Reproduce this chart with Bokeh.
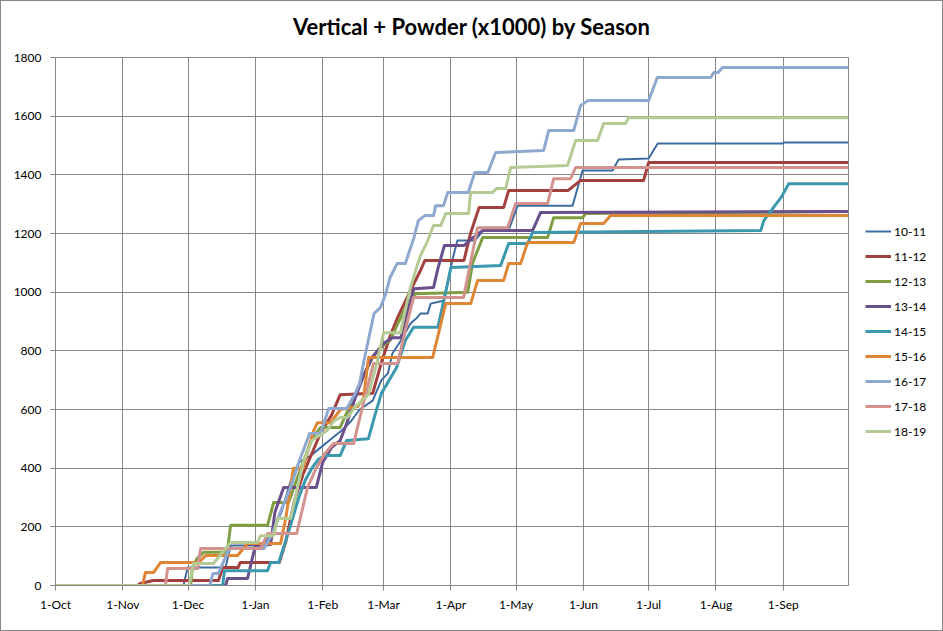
from bokeh.plotting import figure
from bokeh.models import FixedTicker, Legend, LegendItem, ColumnDataSource, Range1d, Div
from bokeh.layouts import row, column
from bokeh.embed import file_html
from bokeh.resources import INLINE

# x = days since 1-Oct, y = cumulative vertical + powder (x1000)
month_days = [0, 31, 61, 92, 123, 151, 182, 212, 243, 273, 304, 335]
month_labels = ["1-Oct", "1-Nov", "1-Dec", "1-Jan", "1-Feb", "1-Mar",
                "1-Apr", "1-May", "1-Jun", "1-Jul", "1-Aug", "1-Sep"]
y_ticks = [0, 200, 400, 600, 800, 1000, 1200, 1400, 1600, 1800]

seasons = ["10-11", "11-12", "12-13", "13-14", "14-15", "15-16", "16-17", "17-18", "18-19"]

s_10_11 = [(0, 0), (58.9, 0), (60.8, 61), (78.3, 61), (80.6, 136), (95, 136), (100, 180), (104, 250),
           (108, 350), (112, 420), (117, 440), (122, 470), (127, 500), (132, 530), (136, 560), (140, 600),
           (146, 630), (150, 700), (153, 723), (155, 790), (159, 835), (163.4, 893), (166, 910), (168, 927),
           (171.3, 927), (172.7, 961), (178.6, 971), (181, 1050), (183, 1120), (185, 1176), (193, 1176),
           (198, 1220), (209, 1220), (212.7, 1295), (238, 1295), (242.6, 1415), (256.4, 1415), (259.2, 1452),
           (273, 1456), (277.2, 1507), (334.7, 1507), (335.5, 1510), (365, 1510)]
s_11_12 = [(0, 0), (37.8, 0), (39, 7), (45, 17), (75, 17), (77, 61), (84, 61), (85, 78), (103, 78),
           (106, 150), (110, 290), (114, 380), (118, 450), (122, 520), (127, 580), (131, 650), (146, 655),
           (150, 760), (154, 850), (157.5, 914), (163.4, 1006), (168, 1074), (170, 1108), (188, 1108),
           (191, 1200), (195, 1289), (206.3, 1289), (208.6, 1347), (236, 1347), (241.7, 1381), (270.7, 1381),
           (273, 1442), (365, 1442)]
s_12_13 = [(0, 0), (62.2, 0), (63, 60), (65, 90), (68.1, 113), (79, 113), (80.6, 205), (97.6, 205),
           (100.4, 283), (107.3, 283), (110, 340), (114, 420), (118, 500), (122, 539), (131, 539), (136, 620),
           (141, 700), (146, 780), (151, 820), (154, 835), (158, 900), (162, 960), (165.7, 995), (189.7, 1000),
           (192, 1100), (196.6, 1186), (226.5, 1186), (229.3, 1254), (242.6, 1254), (244, 1268), (365, 1275)]
s_13_14 = [(0, 0), (78.3, 0), (79.2, 24), (88.4, 24), (92, 136), (99, 140), (101, 250), (105, 334),
           (120, 334), (123, 420), (127, 470), (131, 494), (134, 552), (138, 640), (142, 720), (146, 780),
           (151, 825), (155, 845), (159, 845), (163, 960), (165, 1012), (174, 1016), (176, 1080), (179, 1159),
           (188, 1159), (192, 1185), (196.6, 1210), (219.6, 1210), (223.3, 1272), (365, 1275)]
s_14_15 = [(0, 0), (76.9, 0), (77.8, 50), (97.6, 50), (99, 78), (102.7, 78), (105, 130), (108, 200),
           (112, 300), (115, 360), (118, 400), (121, 430), (124, 443), (131, 443), (134, 494), (144, 500),
           (147, 580), (150, 655), (157, 743), (161, 835), (164.8, 880), (176, 880), (179.6, 1000),
           (182, 1084), (204.9, 1091), (208.6, 1166), (217.3, 1166), (219.6, 1203), (324.6, 1210),
           (326, 1244), (330.6, 1290), (334, 1323), (337.5, 1370), (365, 1370)]
s_15_16 = [(0, 0), (40, 0), (41.4, 44), (45.1, 44), (48.3, 78), (65.8, 78), (69.1, 102), (83.8, 102),
           (88.4, 143), (103.6, 143), (106, 230), (109.5, 400), (114, 400), (118.8, 528), (120.6, 555),
           (126.6, 555), (131.2, 600), (139, 610), (141.8, 640), (144.1, 777), (173.6, 777), (179.6, 961),
           (191.1, 961), (194.3, 1040), (206.3, 1040), (208.6, 1098), (214.1, 1098), (217.3, 1169),
           (238.5, 1169), (241.7, 1234), (252.3, 1234), (255.5, 1261), (365, 1261)]
s_16_17 = [(0, 0), (71, 0), (72.5, 41), (75, 41), (80, 126), (96, 126), (100, 180), (104, 260), (108, 330),
           (112, 420), (117, 518), (122, 518), (125.7, 603), (134, 603), (138, 655), (140, 689), (142, 767),
           (146.6, 927), (149.6, 948), (152, 995), (154, 1050), (157.3, 1098), (161, 1098), (165, 1186),
           (167, 1244), (170, 1261), (174, 1261), (175, 1295), (178.6, 1295), (180.5, 1340), (190, 1340),
           (193, 1408), (199, 1408), (202.6, 1476), (224.7, 1483), (227, 1551), (238.5, 1551), (241.7, 1636),
           (245, 1653), (273, 1653), (277, 1732), (301.6, 1732), (303, 1749), (305, 1749), (307, 1766),
           (365, 1766)]
s_17_18 = [(0, 0), (50.6, 0), (51.6, 58), (65.4, 58), (66.8, 126), (94.4, 126), (97.6, 177), (111, 177),
           (113, 240), (116, 334), (120, 400), (124, 450), (128, 484), (137.2, 484), (141, 600), (146.4, 757),
           (157.5, 757), (161, 870), (164.8, 982), (187.8, 982), (191, 1100), (194.3, 1220), (208.1, 1220),
           (211.8, 1302), (226.5, 1302), (229.3, 1387), (237.1, 1387), (239.4, 1425), (365, 1425)]
s_18_19 = [(0, 0), (61.5, 0), (63.5, 75), (72.7, 75), (80.6, 147), (93, 147), (94.4, 170), (100.4, 170),
           (102.2, 228), (108.2, 228), (111, 320), (114, 420), (118, 494), (125, 528), (128, 560), (131, 573),
           (134.4, 573), (138, 610), (144, 650), (148, 760), (151, 862), (158.8, 862), (161, 940),
           (163.4, 1016), (166, 1080), (168, 1125), (171, 1170), (174, 1227), (177.3, 1227), (179.6, 1268),
           (190.1, 1268), (191.1, 1340), (201.2, 1340), (203, 1353), (207.2, 1353), (209.5, 1425),
           (235.7, 1432), (239.4, 1517), (249.5, 1517), (252.3, 1575), (262.4, 1575), (263.8, 1595),
           (365, 1595)]

series = [s_10_11, s_11_12, s_12_13, s_13_14, s_14_15, s_15_16, s_16_17, s_17_18, s_18_19]
colors = ["#3F6CA0", "#A33F3D", "#7F9E42", "#6A4F8C", "#3C98AE", "#DE8536", "#8EA8D0", "#D4928F", "#B5CB96"]
widths = [2, 3, 3, 3, 3, 3, 3, 3, 3]

GRID = "#868686"
FONT = "Lato"

title = Div(text="Vertical + Powder (x1000) by Season", width=941, height=45, margin=0,
            styles={"font-family": FONT, "font-size": "22px", "font-weight": "bold",
                    "color": "#000000", "text-align": "center", "line-height": "52px",
                    "background": "white"})

p = figure(width=849, height=584, output_backend="svg", toolbar_location=None,
           x_range=Range1d(0, 365), y_range=Range1d(0, 1800),
           min_border_left=54, min_border_right=2, min_border_top=11, min_border_bottom=45)
p.background_fill_color = "white"
p.border_fill_color = "white"
p.outline_line_color = GRID
p.outline_line_width = 1

p.xaxis.ticker = FixedTicker(ticks=month_days)
p.xaxis.major_label_overrides = {d: l for d, l in zip(month_days, month_labels)}
p.yaxis.ticker = FixedTicker(ticks=y_ticks)
for ax in (p.xaxis, p.yaxis):
    ax.axis_line_color = GRID
    ax.major_tick_line_color = GRID
    ax.major_tick_out = 5
    ax.major_tick_in = 0
    ax.minor_tick_line_color = None
    ax.major_label_text_font = FONT
    ax.major_label_text_font_size = "12px"
    ax.major_label_text_color = "#000000"
p.yaxis.major_label_standoff = 9
p.xaxis.major_label_standoff = 6

p.xgrid.grid_line_color = GRID
p.ygrid.grid_line_color = GRID
p.xgrid.grid_line_width = 1
p.ygrid.grid_line_width = 1

# legend panel to the right of the plot area (keys drawn off-range, only the legend shows)
lg = figure(width=92, height=584, output_backend="svg", toolbar_location=None,
            x_range=Range1d(0, 1), y_range=Range1d(0, 1), min_border=0,
            x_axis_location=None, y_axis_location=None)
lg.grid.visible = False
lg.outline_line_color = None
lg.background_fill_color = "white"
lg.border_fill_color = "white"

items = []
for name, data, c, w in zip(seasons, series, colors, widths):
    src = ColumnDataSource(dict(day=[d for d, v in data], val=[v for d, v in data]))
    p.line("day", "val", source=src, line_color=c, line_width=w, line_join="round")
    key = lg.line(x=[5, 6], y=[5, 6], line_color=c, line_width=w)
    items.append(LegendItem(label=name, renderers=[key]))

legend = Legend(items=items, location=(15, 144), border_line_color=None,
                background_fill_alpha=0, padding=5, spacing=5, margin=0,
                glyph_width=26, glyph_height=20, label_height=20, label_standoff=3,
                label_text_font=FONT, label_text_font_size="12px", label_text_color="#000000")
lg.add_layout(legend)

layout = column(title, row(p, lg, spacing=0), spacing=0,
                styles={"border": "1px solid #888888", "background": "white"})

open("out.html", "w").write(file_html(layout, INLINE))
